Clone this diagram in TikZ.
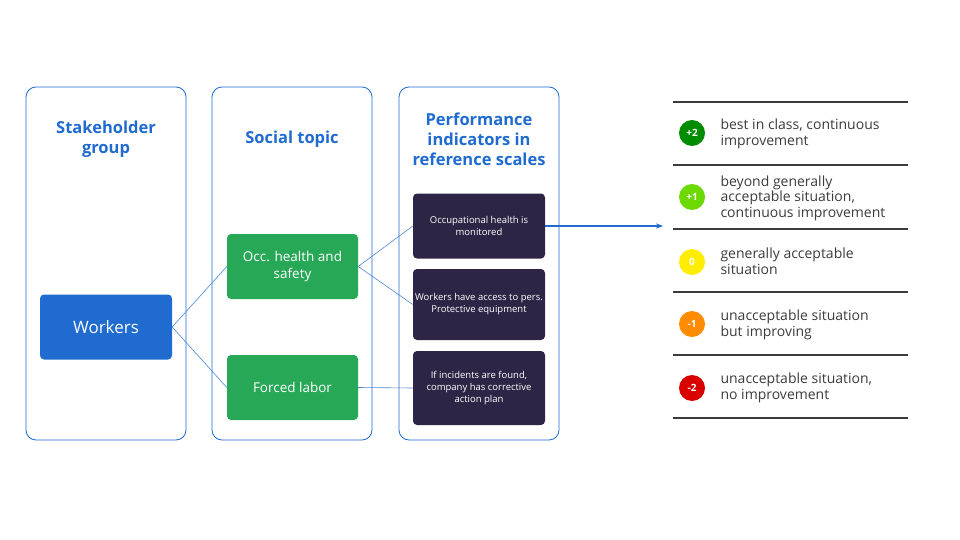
\documentclass[tikz,border=0pt]{standalone}
\usepackage{fontspec}
\setmainfont{Open Sans}
\usetikzlibrary{arrows.meta}
\definecolor{hblue}{HTML}{1F6BD0}
\definecolor{ggreen}{HTML}{27A857}
\definecolor{dpurple}{HTML}{2E2445}
\definecolor{lgray}{HTML}{3C3C3C}
\begin{document}
\begin{tikzpicture}[x=1pt,y=-1pt,
 col/.style={draw=hblue,rounded corners=10pt,line width=0.8pt},
 hdr/.style={text=hblue,font=\fontsize{16.5}{20}\selectfont\bfseries,align=center},
 box/.style={rounded corners=4pt,inner sep=0pt,align=center},
 gbox/.style={box,fill=ggreen,text=white,minimum width=131pt,minimum height=65pt,font=\fontsize{13.5}{17}\selectfont},
 dbox/.style={box,fill=dpurple,text=white,minimum width=132pt,font=\fontsize{9.5}{12}\selectfont},
 conn/.style={draw=hblue!80,line width=0.6pt},
 sep/.style={draw=lgray,line width=1.2pt},
 circ/.style={circle,minimum size=26pt,inner sep=0pt,text=white,font=\fontsize{10}{10}\selectfont\bfseries},
 ltxt/.style={anchor=west,align=left,text=lgray,font=\fontsize{14}{15.5}\selectfont}]
\useasboundingbox[fill=white] (0,0) rectangle (960,540);
\draw[col] (26,87) rectangle (186,440);
\draw[col] (212,87) rectangle (372,440);
\draw[col] (399,87) rectangle (559,440);
\node[hdr] (h1) at (106,139) {Stakeholder\\group};
\node[hdr] (h2) at (292,139) {Social topic};
\node[hdr] (h3) at (479,139) {Performance\\indicators in\\reference scales};
\node[box,fill=hblue,text=white,minimum width=132pt,minimum height=65pt,font=\fontsize{17}{19}\selectfont] (w) at (106,327) {Workers};
\node[gbox] (g1) at (292.5,266.5) {Occ. health and\\safety};
\node[gbox] (g2) at (292.5,387.5) {Forced labor};
\node[dbox,minimum height=65pt] (d1) at (479,226) {Occupational health is\\monitored};
\node[dbox,minimum height=71pt] (d2) at (479,304.5) {Workers have access to pers.\\Protective equipment};
\node[dbox,minimum height=74pt] (d3) at (479,388) {If incidents are found,\\company has corrective\\action plan};
\draw[conn] (w.east) -- (g1.west);
\draw[conn] (w.east) -- (g2.west);
\draw[conn] (g1.east) -- (d1.west);
\draw[conn] (g1.east) -- (d2.west);
\draw[conn] (g2.east) -- (d3.west);
\coordinate (ae) at (663,226);
\draw[draw=hblue,line width=1.4pt,-{Stealth[length=7pt]}] (d1.east) -- (ae);
\foreach \y in {102,165,229,292,355,418} \draw[sep] (673,\y) -- (908,\y);
\node[circ,fill=green!55!black] (c1) at (692,133) {+2};
\node[circ,fill=green!50!yellow!85!black] (c2) at (692,197) {+1};
\node[circ,fill=yellow!95!orange] (c3) at (692,262) {0};
\node[circ,fill=orange!90!yellow] (c4) at (692,324) {-1};
\node[circ,fill=red!85!black] (c5) at (692,388) {-2};
\node[ltxt] (t1) at (717,134) {best in class, continuous\\improvement};
\node[ltxt] (t2) at (717,198) {beyond generally\\acceptable situation,\\continuous improvement};
\node[ltxt] (t3) at (717,261) {generally acceptable\\situation};
\node[ltxt] (t4) at (717,325) {unacceptable situation\\but improving};
\node[ltxt] (t5) at (717,388) {unacceptable situation,\\no improvement};
\end{tikzpicture}
\end{document}
